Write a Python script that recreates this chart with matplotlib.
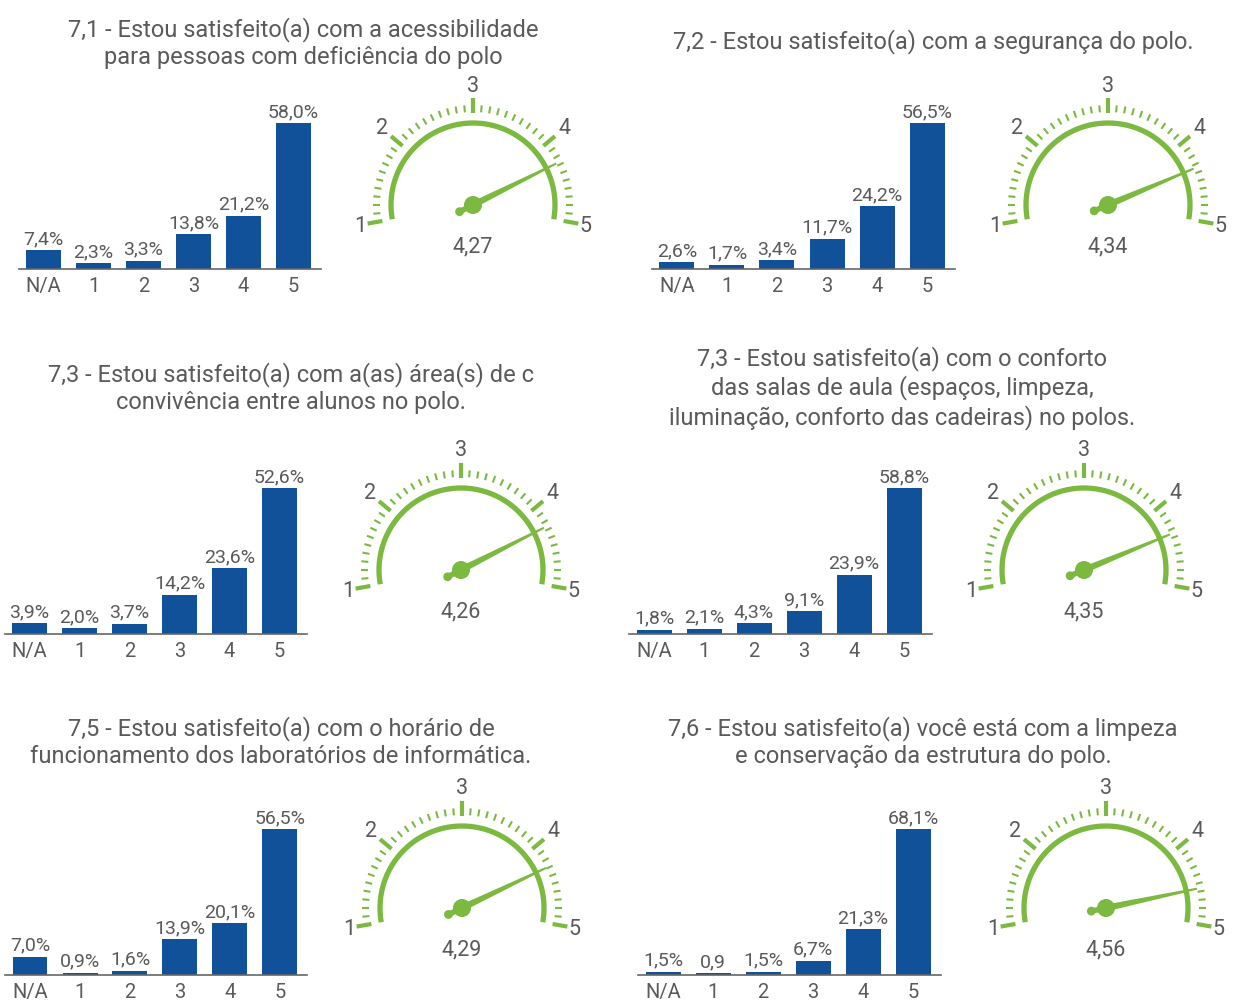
import numpy as np
import matplotlib
matplotlib.use("Agg")
import matplotlib.pyplot as plt
from matplotlib.patches import Polygon, Circle

plt.rcParams['font.family'] = ['Roboto', 'DejaVu Sans']

W, H = 1233, 1000
BLUE = '#10519a'
GREEN = '#7bb940'
TEXT = '#5a5a5a'

categories = ['N/A', '1', '2', '3', '4', '5']

titles = [
    "7,1 - Estou satisfeito(a) com a acessibilidade\npara pessoas com deficiência do polo",
    "7,2 - Estou satisfeito(a) com a segurança do polo.",
    "7,3 - Estou satisfeito(a) com a(as) área(s) de c\nconvivência entre alunos no polo.",
    "7,3 - Estou satisfeito(a) com o conforto\ndas salas de aula (espaços, limpeza,\niluminação, conforto das cadeiras) no polos.",
    "7,5 - Estou satisfeito(a) com o horário de\nfuncionamento dos laboratórios de informática.",
    "7,6 - Estou satisfeito(a) você está com a limpeza\ne conservação da estrutura do polo.",
]

vals_71 = [7.4, 2.3, 3.3, 13.8, 21.2, 58.0]
vals_72 = [2.6, 1.7, 3.4, 11.7, 24.2, 56.5]
vals_73a = [3.9, 2.0, 3.7, 14.2, 23.6, 52.6]
vals_73b = [1.8, 2.1, 4.3, 9.1, 23.9, 58.8]
vals_75 = [7.0, 0.9, 1.6, 13.9, 20.1, 56.5]
vals_76 = [1.5, 0.9, 1.5, 6.7, 21.3, 68.1]

labels_71 = ['7,4%', '2,3%', '3,3%', '13,8%', '21,2%', '58,0%']
labels_72 = ['2,6%', '1,7%', '3,4%', '11,7%', '24,2%', '56,5%']
labels_73a = ['3,9%', '2,0%', '3,7%', '14,2%', '23,6%', '52,6%']
labels_73b = ['1,8%', '2,1%', '4,3%', '9,1%', '23,9%', '58,8%']
labels_75 = ['7,0%', '0,9%', '1,6%', '13,9%', '20,1%', '56,5%']
labels_76 = ['1,5%', '0,9', '1,5%', '6,7%', '21,3%', '68,1%']

means = [4.27, 4.34, 4.26, 4.35, 4.29, 4.56]
mean_labels = ['4,27', '4,34', '4,26', '4,35', '4,29', '4,56']

all_vals = [vals_71, vals_72, vals_73a, vals_73b, vals_75, vals_76]
all_labels = [labels_71, labels_72, labels_73a, labels_73b, labels_75, labels_76]

# layout (pixels)
title_pos = [(303, 43), (933, 42), (291, 388), (902, 388), (281, 742), (923, 742)]
bar_layout = [  # (x of first bar center, baseline y)
    (43.5, 269), (677, 269), (29.5, 634), (654, 634), (30, 975), (663, 975)]
gauge_centers = [(473, 205), (1108, 205), (461, 570), (1084, 570), (462, 908), (1106, 908)]

fig = plt.figure(figsize=(W / 100, H / 100), dpi=100)
fig.patch.set_facecolor('white')


def px_axes(x0, y0, w, h):
    return fig.add_axes([x0 / W, 1 - (y0 + h) / H, w / W, h / H])


SP = 50.0
BAR_H = 146.0

for i in range(6):
    tx, ty = title_pos[i]
    fig.text(tx / W, 1 - ty / H, titles[i], ha='center', va='center',
             fontsize=17, color=TEXT, linespacing=1.25)

    # bars
    cx0, base = bar_layout[i]
    left = cx0 - 0.5 * SP
    width = 6.05 * SP
    ax = px_axes(left, base - BAR_H, width, BAR_H)
    vals = all_vals[i]
    x = np.arange(len(categories))
    ax.bar(x, vals, width=0.7, color=BLUE)
    ax.set_xlim(-0.5, 5.55)
    ax.set_ylim(0, max(vals))
    for s in ['top', 'right', 'left']:
        ax.spines[s].set_visible(False)
    ax.spines['bottom'].set_color('#666666')
    ax.spines['bottom'].set_linewidth(1.2)
    ax.set_yticks([])
    ax.set_xticks(x)
    ax.set_xticklabels(categories, fontsize=14.5, color=TEXT)
    ax.tick_params(axis='x', length=0, pad=6)
    ax.patch.set_alpha(0)
    for xi, v, lab in zip(x, vals, all_labels[i]):
        ax.annotate(lab, (xi, v), xytext=(0, 1.5), textcoords='offset points',
                    ha='center', va='bottom', fontsize=14, color=TEXT,
                    annotation_clip=False)

    # gauge
    gx, gy = gauge_centers[i]
    gw, gh = 280, 200
    gax = px_axes(gx - gw / 2, gy - 140, gw, gh)
    gax.set_xlim(-gw / 2, gw / 2)
    gax.set_ylim(-(gh - 140), 140)
    gax.set_aspect('equal')
    gax.axis('off')

    def ang(v):
        return np.deg2rad(190 - 50 * (v - 1))

    R = 82
    t = np.linspace(ang(1), ang(5), 200)
    gax.plot(R * np.cos(t), R * np.sin(t), color=GREEN, lw=3.8,
             solid_capstyle='butt')
    ticks = np.round(np.arange(1, 5.0001, 0.1), 2)
    for tv in ticks:
        a = ang(tv)
        if abs(tv - round(tv)) < 1e-6:
            r0, r1, lw = 92, 107, 3.0
        else:
            r0, r1, lw = 93, 100, 1.5
        gax.plot([r0 * np.cos(a), r1 * np.cos(a)], [r0 * np.sin(a), r1 * np.sin(a)],
                 color=GREEN, lw=lw, solid_capstyle='butt')
    for k in range(1, 6):
        a = ang(k)
        rl = 119 if k in (2, 3, 4) else 114
        gax.text(rl * np.cos(a), rl * np.sin(a) - (2 if k in (1, 5) else 0), str(k),
                 ha='center', va='center', fontsize=15.5, color=TEXT)
    # needle
    a = ang(means[i])
    d = np.array([np.cos(a), np.sin(a)])
    n = np.array([-np.sin(a), np.cos(a)])
    tip = d * 93
    poly = [tuple(n * 3.4), tuple(tip + n * 1.0), tuple(tip - n * 1.0), tuple(-n * 3.4)]
    gax.add_patch(Polygon(poly, closed=True, color=GREEN, lw=0))
    tail = -d * 15
    gax.plot([0, tail[0]], [0, tail[1]], color=GREEN, lw=4, solid_capstyle='butt')
    gax.add_patch(Circle(tuple(tail), 4.4, color=GREEN, lw=0))
    gax.add_patch(Circle((0, 0), 9, color=GREEN, lw=0))
    gax.text(0, -41.5, mean_labels[i], ha='center', va='center', fontsize=15.5, color=TEXT)

fig.savefig('out.png', dpi=100, facecolor='white')
